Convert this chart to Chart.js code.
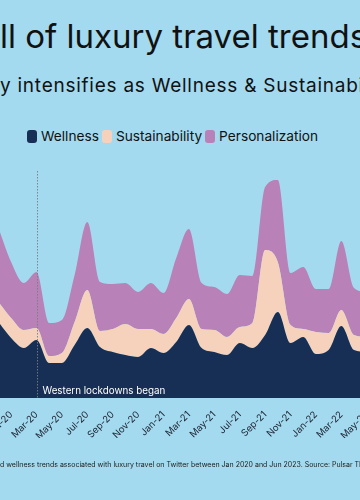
<!DOCTYPE html>
<html lang="en">
<head>
    <meta charset="UTF-8">
    <meta name="viewport" content="width=device-width, initial-scale=1.0">
    <title>Luxury travel trends</title>
    <style>
        html, body { margin: 0; padding: 0; }
        body {
            width: 360px; height: 500px; overflow: hidden; position: relative;
            background: #a3daef; font-family: 'Inter', 'Noto Sans', sans-serif; color: #111;
        }
        .txt { position: absolute; white-space: nowrap; }
        #title { left: 0; top: 16px; font-size: 33px; line-height: 40px; }
        #subtitle { left: 0; top: 75px; font-size: 19px; line-height: 22px; letter-spacing: 0.75px; }
        #legend { left: 27px; top: 128px; font-size: 13.7px; line-height: 16px; display: flex; align-items: center; }
        #legend span.box { display: inline-block; width: 10px; height: 13px; border-radius: 3px; margin-right: 4px; }
        #legend span.item { display: inline-flex; align-items: center; margin-right: 3px; }
        #note { left: 0; top: 460px; font-size: 7px; line-height: 10px; color: #222; }
        #wrap { position: absolute; left: 0; top: 0; width: 360px; height: 500px; }
    </style>
</head>
<body>
    <div id="title" class="txt">ll of luxury travel trends</div>
    <div id="subtitle" class="txt">y intensifies as Wellness &amp; Sustainability</div>
    <div id="legend" class="txt"></div>
    <div id="wrap"><canvas id="myChart"></canvas></div>
    <div id="note" class="txt">d wellness trends associated with luxury travel on Twitter between Jan 2020 and Jun 2023. Source: Pulsar TRAC</div>

    <script src="https://cdn.jsdelivr.net/npm/chart.js"></script>

    <script>
        // mesecni podatki (vidni izsek grafa)
        const months = ['Dec-19', 'Jan-20', 'Feb-20', 'Mar-20', 'Apr-20', 'May-20', 'Jun-20', 'Jul-20', 'Aug-20', 'Sep-20',
            'Oct-20', 'Nov-20', 'Dec-20', 'Jan-21', 'Feb-21', 'Mar-21', 'Apr-21', 'May-21', 'Jun-21', 'Jul-21',
            'Aug-21', 'Sep-21', 'Oct-21', 'Nov-21', 'Dec-21', 'Jan-22', 'Feb-22', 'Mar-22', 'Apr-22', 'May-22'];
        const wellness = [76, 60, 50, 58, 35, 35, 53, 70, 51, 46, 43, 41, 50, 45, 56, 73, 50, 46, 43, 55, 50, 63, 86, 55, 61, 44, 48, 72, 48, 46];
        const sustainability = [20, 20, 18, 12, 7, 10, 23, 38, 16, 23, 31, 28, 19, 19, 24, 26, 19, 22, 18, 16, 25, 85, 50, 18, 8, 22, 17, 16, 15, 15];
        const personalization = [74, 56, 47, 56, 33, 33, 47, 68, 49, 45, 41, 37, 46, 41, 60, 70, 46, 43, 43, 52, 47, 63, 82, 52, 62, 43, 44, 69, 47, 45];
        const tickLabels = ['Jan-20', 'Mar-20', 'May-20', 'Jul-20', 'Sep-20', 'Nov-20', 'Jan-21', 'Mar-21', 'May-21',
            'Jul-21', 'Sep-21', 'Nov-21', 'Jan-22', 'Mar-22', 'May-22'];
        const lockdownMonth = 'Mar-20';
        const lockdownText = 'Western lockdowns began';

        const colors = { wellness: '#172f55', sustainability: '#f6d2bd', personalization: '#b881b7' };

        const series = [
            { label: 'Wellness', data: wellness, color: colors.wellness, fill: 'origin' },
            { label: 'Sustainability', data: sustainability, color: colors.sustainability, fill: '-1' },
            { label: 'Personalization', data: personalization, color: colors.personalization, fill: '-1' },
        ];

        // legenda
        const legend = document.getElementById('legend');
        series.forEach(s => {
            const item = document.createElement('span');
            item.className = 'item';
            item.innerHTML = '<span class="box" style="background:' + s.color + '"></span>' + s.label;
            legend.appendChild(item);
        });

        // crta za zacetek lockdowna
        const lockdownLine = {
            id: 'lockdownLine',
            afterDatasetsDraw(chart) {
                const { ctx, chartArea, scales } = chart;
                const x = Math.round(scales.x.getPixelForValue(months.indexOf(lockdownMonth))) + 0.5;
                ctx.save();
                ctx.strokeStyle = 'rgba(120,125,130,0.9)';
                ctx.lineWidth = 1;
                ctx.setLineDash([1.5, 1.5]);
                ctx.beginPath();
                ctx.moveTo(x, chartArea.top + 1);
                ctx.lineTo(x, chartArea.bottom);
                ctx.stroke();
                ctx.setLineDash([]);
                ctx.fillStyle = '#ffffff';
                ctx.font = '9.8px Inter, sans-serif';
                ctx.textBaseline = 'alphabetic';
                ctx.fillText(lockdownText, x + 5, chartArea.bottom - 4.5);
                ctx.restore();
            }
        };

        const ctx = document.getElementById('myChart');

        new Chart(ctx, {
            type: 'line',
            data: {
                datasets: series.map(s => ({
                    label: s.label,
                    data: s.data.map((v, i) => ({ x: i, y: v })),
                    backgroundColor: s.color,
                    borderColor: s.color,
                    borderWidth: 0,
                    pointRadius: 0,
                    fill: s.fill,
                    cubicInterpolationMode: 'monotone',
                }))
            },
            options: {
                responsive: true,
                maintainAspectRatio: false,
                animation: false,
                layout: { padding: { top: 170, bottom: 62, left: 0, right: 0 } },
                plugins: { legend: { display: false }, tooltip: { enabled: false } },
                scales: {
                    x: {
                        type: 'linear',
                        min: 0.126,
                        max: 28.47,
                        grid: { display: false },
                        border: { display: false },
                        afterBuildTicks: axis => {
                            axis.ticks = tickLabels.map(l => ({ value: months.indexOf(l) }));
                        },
                        afterFit: axis => {
                            axis.paddingLeft = 0;
                            axis.paddingRight = 0;
                            axis.height = 40;
                        },
                        ticks: {
                            autoSkip: false,
                            minRotation: 45,
                            maxRotation: 45,
                            padding: 3,
                            color: '#1c2230',
                            font: { family: 'Inter', size: 9.5 },
                            callback: value => months[value] || ''
                        }
                    },
                    y: {
                        display: false,
                        stacked: true,
                        min: 0,
                        max: 228
                    }
                }
            },
            plugins: [lockdownLine]
        });
    </script>
</body>
</html>
